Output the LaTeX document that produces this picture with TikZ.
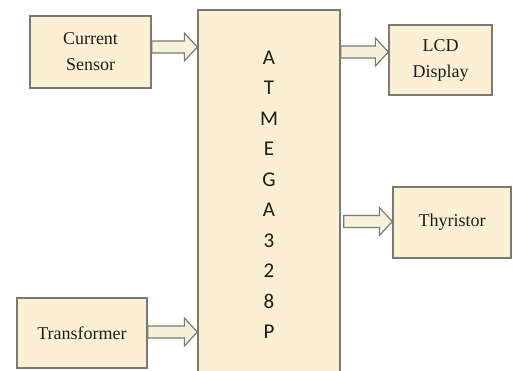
\documentclass[tikz,border=0pt]{standalone}
\usepackage{fontspec}
\setmainfont{Liberation Serif}
\newfontfamily\chipfont{Carlito}
\usepackage{tikz}
\usetikzlibrary{positioning,calc}
\definecolor{cream}{HTML}{FCF0D4}
\definecolor{edge}{HTML}{7A7A72}
\definecolor{arrfill}{HTML}{F6F1DA}
\definecolor{ink}{HTML}{1C1C1C}
\tikzset{
  blk/.style={rectangle,draw=edge,fill=cream,line width=1.3pt,
    align=center,inner sep=0pt,text=ink,font=\fontsize{18}{26}\selectfont},
  chip/.style={blk,font=\chipfont\fontsize{21}{30.5}\selectfont},
  barr/.style={draw=edge,fill=arrfill,line width=1.2pt,line join=miter},
}
% hollow block arrow: from a point to the x of a node side
\newcommand\barrow[2]{%
  \draw[barr] let \p1=(#1), \p2=(#2) in
    (\x1,\y1+6pt) -- (\x2-13pt,\y1+6pt) -- (\x2-13pt,\y1+14pt) -- (\x2,\y1)
    -- (\x2-13pt,\y1-14pt) -- (\x2-13pt,\y1-6pt) -- (\x1,\y1-6pt) -- cycle;}

\begin{document}
\begin{tikzpicture}[x=1pt,y=-1pt]
  \useasboundingbox (0,0) rectangle (513,370);
  % controller
  \node[chip,minimum width=142pt,minimum height=370pt] (mcu) at (269,195)
    {A\\T\\M\\E\\G\\A\\3\\2\\8\\P};
  % inputs
  \node[blk,minimum width=121pt,minimum height=72pt] (cs) at (90.5,52) {Current\\Sensor};
  \node[blk,minimum width=130pt,minimum height=70pt] (tr) at (82,333) {Transformer};
  % outputs
  \node[blk,minimum width=103pt,minimum height=70pt] (lcd) at (440.5,60) {LCD\\Display};
  \node[blk,minimum width=118pt,minimum height=71pt] (thy) at (452,222.5) {Thyristor};
  \barrow{$(cs.east)+(0,-5)$}{mcu.west}
  \barrow{$(tr.east)+(0,-1)$}{mcu.west}
  \barrow{$(mcu.east|-lcd.west)+(0,-8)$}{lcd.west}
  \barrow{$(mcu.east|-thy.west)+(3,-1)$}{thy.west}
\end{tikzpicture}
\end{document}
